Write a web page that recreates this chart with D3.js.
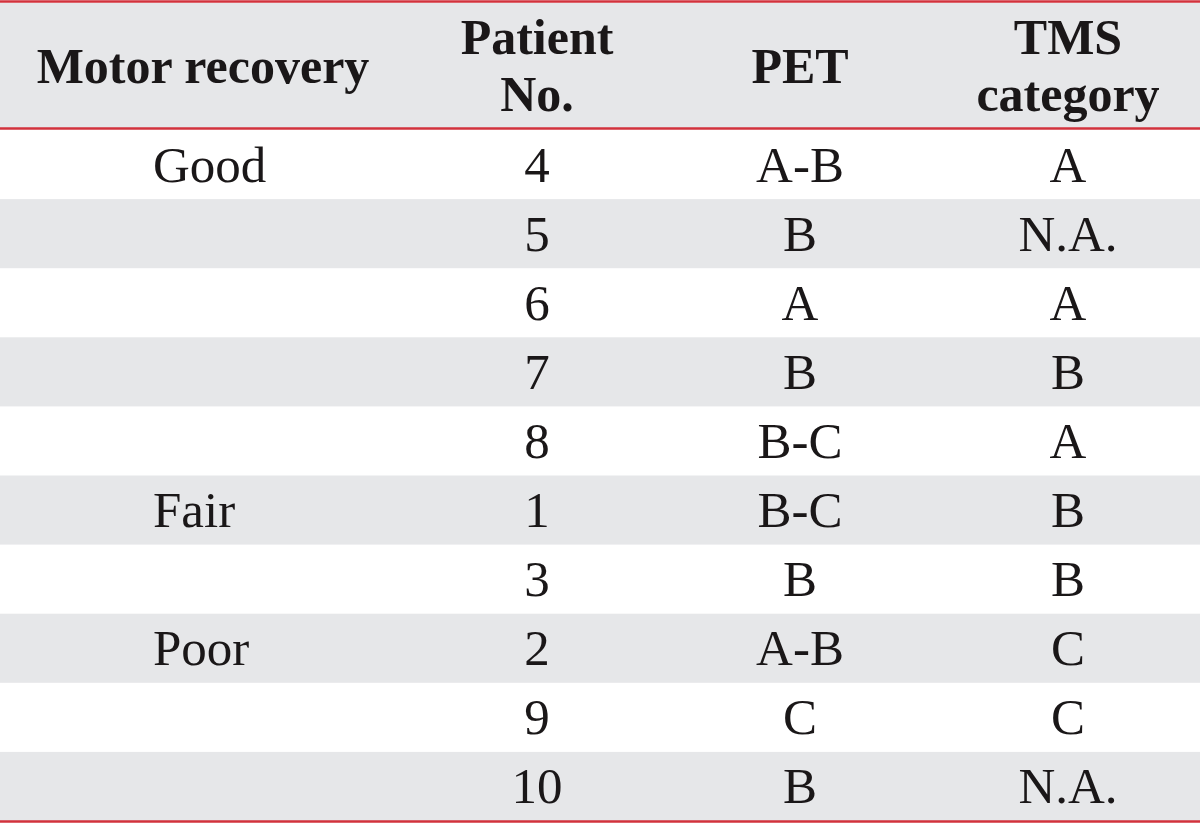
<!DOCTYPE html>
<html>
<head>
<meta charset="utf-8">
<script src="https://cdn.jsdelivr.net/npm/d3@7"></script>
<style>
  html, body { margin: 0; padding: 0; background: #fff; }
  svg { display: block; }
</style>
</head>
<body>
<div id="chart-area"></div>
<script>
const WIDTH = 1200
const HEIGHT = 824
const HEADER = { TOP: 3, BOTTOM: 128 }
const BODY = { TOP: 130, BOTTOM: 821 }

// table contents
const headers = [["Motor recovery"], ["Patient", "No."], ["PET"], ["TMS", "category"]]
const recovery = ["Good", "", "", "", "", "Fair", "", "Poor", "", ""]
const patientNo = ["4", "5", "6", "7", "8", "1", "3", "2", "9", "10"]
const pet = ["A-B", "B", "A", "B", "B-C", "B-C", "B", "A-B", "C", "B"]
const tms = ["A", "N.A.", "A", "B", "A", "B", "B", "C", "C", "N.A."]

const RED = "#d2323c"
const GRAY = "#e6e7e9"
const FONT = "'Liberation Serif', 'Times New Roman', serif"

const rows = recovery.map((r, i) => ({ recovery: r, patient: patientNo[i], pet: pet[i], tms: tms[i], i }))

const svg = d3.select("#chart-area").append("svg")
  .attr("width", WIDTH)
  .attr("height", HEIGHT)

const y = d3.scaleBand()
  .domain(d3.range(rows.length))
  .range([BODY.TOP, BODY.BOTTOM])

// column centres
const colX = [203, 537, 800, 1068]

// header band
svg.append("rect")
  .attr("x", 0).attr("y", HEADER.TOP)
  .attr("width", WIDTH).attr("height", HEADER.BOTTOM - HEADER.TOP)
  .attr("fill", GRAY)

// striped rows
svg.selectAll("rect.row")
  .data(rows.filter(d => d.i % 2 === 1))
  .enter().append("rect")
    .attr("class", "row")
    .attr("x", 0)
    .attr("y", d => y(d.i))
    .attr("width", WIDTH)
    .attr("height", y.bandwidth())
    .attr("fill", GRAY)

// red rules
const rules = [1.5, HEADER.BOTTOM + 0.5, BODY.BOTTOM + 0.5]
svg.selectAll("line.rule")
  .data(rules)
  .enter().append("line")
    .attr("class", "rule")
    .attr("x1", 0).attr("x2", WIDTH)
    .attr("y1", d => d).attr("y2", d => d)
    .attr("stroke", RED)
    .attr("stroke-width", 2.5)

// header text
const headerMid = (HEADER.TOP + HEADER.BOTTOM) / 2
const LINE = 57
headers.forEach((lines, c) => {
  const t = svg.append("text")
    .attr("text-anchor", "middle")
    .attr("font-family", FONT)
    .attr("font-weight", "bold")
    .attr("font-size", "50px")
    .attr("fill", "#1a1718")
  lines.forEach((l, k) => {
    const yy = headerMid + 17 + (k - (lines.length - 1) / 2) * LINE
    t.append("tspan").attr("x", colX[c]).attr("y", yy).text(l)
  })
})

// body text
const cellText = (key, x, anchor) => {
  svg.selectAll(`text.${key}`)
    .data(rows)
    .enter().append("text")
      .attr("class", key)
      .attr("x", x)
      .attr("y", d => y(d.i) + y.bandwidth() / 2 + 17)
      .attr("text-anchor", anchor)
      .attr("font-family", FONT)
      .attr("font-size", "51px")
      .attr("fill", "#1a1718")
      .text(d => d[key])
}
cellText("recovery", 153, "start")
cellText("patient", colX[1], "middle")
cellText("pet", colX[2], "middle")
cellText("tms", colX[3], "middle")
</script>
</body>
</html>
